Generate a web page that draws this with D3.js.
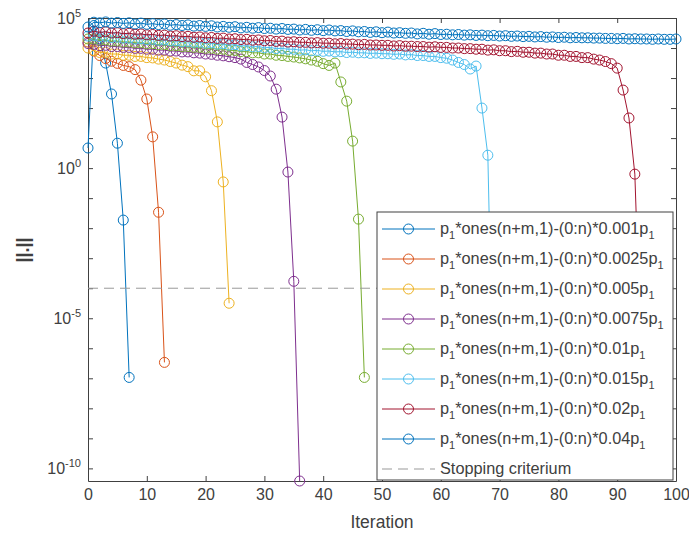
<!DOCTYPE html>
<html><head><meta charset="utf-8">
<script src="https://cdn.jsdelivr.net/npm/d3@7"></script>
<style>
body{margin:0;background:#fff}
text{font-family:"Liberation Sans",Arial,Helvetica,sans-serif}
</style>
</head><body>
<svg id="chart" width="689" height="537"></svg>
<script>
// ---------------- data ----------------
const coefficients = ["0.001", "0.0025", "0.005", "0.0075", "0.01", "0.015", "0.02", "0.04"];
const seriesColors = ["#0072BD", "#D95319", "#EDB120", "#7E2F8E", "#77AC30", "#4DBEEE", "#A2142F", "#0072BD"];

const norm0001 = [4.68, 5.62e4, 2.0e4, 3.16e3, 295, 6.76, 0.0186, 1.07e-7];

const norm00025 = [1.58e4, 7.94e3, 5.62e3, 4.47e3, 3.63e3, 3.09e3, 2.63e3, 2.40e3, 1.91e3, 851,
  200, 11.0, 0.0339, 3.39e-7];

const norm0005 = [1.00e4, 8.32e3, 7.08e3, 7.24e3, 6.31e3, 6.31e3, 5.75e3, 5.75e3, 5.25e3, 5.25e3,
  4.79e3, 4.68e3, 4.27e3, 3.98e3, 3.55e3, 3.16e3, 2.69e3, 2.40e3, 1.74e3, 1.74e3,
  1.10e3, 380, 34.7, 0.347, 3.16e-5];

const norm00075 = [1.41e4, 1.32e4, 1.20e4, 1.23e4, 1.12e4, 1.12e4, 1.05e4, 1.05e4, 9.77e3, 9.77e3,
  9.12e3, 9.12e3, 8.51e3, 8.51e3, 7.94e3, 7.94e3, 7.41e3, 7.41e3, 6.92e3, 6.76e3,
  6.31e3, 6.17e3, 5.75e3, 5.50e3, 5.13e3, 4.79e3, 4.27e3, 3.31e3, 2.82e3, 2.34e3,
  1.78e3, 1.17e3, 427, 50.1, 0.741, 1.70e-4, 3.8e-11];

const norm001 = [2.00e4, 2.00e4, 1.82e4, 1.86e4, 1.70e4, 1.70e4, 1.58e4, 1.58e4, 1.48e4, 1.48e4,
  1.38e4, 1.38e4, 1.29e4, 1.29e4, 1.20e4, 1.20e4, 1.12e4, 1.12e4, 1.05e4, 1.05e4,
  9.77e3, 9.77e3, 9.12e3, 9.12e3, 8.32e3, 8.32e3, 7.59e3, 7.59e3, 6.92e3, 6.92e3,
  6.31e3, 6.31e3, 5.75e3, 5.62e3, 5.25e3, 5.01e3, 4.68e3, 4.37e3, 3.98e3, 3.63e3,
  3.02e3, 2.63e3, 3.16e3, 741, 170, 7.94, 0.02, 1.07e-7];

const norm0015 = [2.51e4, 2.63e4, 2.40e4, 2.45e4, 2.24e4, 2.29e4, 2.14e4, 2.14e4, 2.00e4, 2.04e4,
  1.91e4, 1.95e4, 1.82e4, 1.86e4, 1.74e4, 1.74e4, 1.62e4, 1.66e4, 1.55e4, 1.55e4,
  1.45e4, 1.48e4, 1.35e4, 1.38e4, 1.26e4, 1.29e4, 1.17e4, 1.20e4, 1.10e4, 1.12e4,
  1.02e4, 1.05e4, 9.55e3, 9.77e3, 9.12e3, 9.12e3, 8.51e3, 8.71e3, 8.13e3, 8.32e3,
  7.76e3, 7.94e3, 7.41e3, 7.59e3, 7.08e3, 7.24e3, 6.92e3, 6.92e3, 6.61e3, 6.76e3,
  6.46e3, 6.46e3, 6.17e3, 6.31e3, 5.89e3, 6.03e3, 5.62e3, 5.62e3, 5.25e3, 5.25e3,
  4.79e3, 4.57e3, 3.98e3, 3.31e3, 2.82e3, 2.00e3, 2.51e3, 100, 2.69, 3.2e-9];

const norm002 = [3.16e4, 3.63e4, 3.31e4, 3.47e4, 3.16e4, 3.24e4, 3.02e4, 3.09e4, 2.88e4, 2.95e4,
  2.75e4, 2.82e4, 2.63e4, 2.69e4, 2.51e4, 2.57e4, 2.40e4, 2.45e4, 2.29e4, 2.34e4,
  2.19e4, 2.24e4, 2.09e4, 2.14e4, 2.00e4, 2.04e4, 1.91e4, 1.95e4, 1.82e4, 1.86e4,
  1.74e4, 1.78e4, 1.66e4, 1.70e4, 1.58e4, 1.62e4, 1.55e4, 1.55e4, 1.48e4, 1.51e4,
  1.45e4, 1.45e4, 1.38e4, 1.41e4, 1.35e4, 1.35e4, 1.29e4, 1.32e4, 1.26e4, 1.26e4,
  1.23e4, 1.23e4, 1.17e4, 1.20e4, 1.15e4, 1.15e4, 1.12e4, 1.12e4, 1.07e4, 1.10e4,
  1.05e4, 1.05e4, 1.00e4, 1.00e4, 9.55e3, 9.55e3, 9.12e3, 9.12e3, 8.51e3, 8.71e3,
  8.13e3, 8.13e3, 7.59e3, 7.76e3, 7.24e3, 7.24e3, 6.76e3, 6.76e3, 6.31e3, 6.31e3,
  5.75e3, 5.75e3, 5.25e3, 5.25e3, 4.79e3, 4.79e3, 4.27e3, 3.98e3, 3.55e3, 3.02e3,
  2.14e3, 398, 46.8, 0.631, 1e-6];

const norm004 = [5.01e4, 7.24e4, 6.92e4, 7.41e4, 6.76e4, 7.08e4, 6.61e4, 6.92e4, 6.31e4, 6.76e4,
  6.17e4, 6.46e4, 6.03e4, 6.31e4, 5.75e4, 6.03e4, 5.62e4, 5.89e4, 5.37e4, 5.62e4,
  5.25e4, 5.50e4, 5.01e4, 5.25e4, 4.90e4, 5.13e4, 4.68e4, 4.90e4, 4.57e4, 4.79e4,
  4.47e4, 4.57e4, 4.27e4, 4.47e4, 4.17e4, 4.27e4, 3.98e4, 4.17e4, 3.89e4, 4.07e4,
  3.80e4, 3.98e4, 3.72e4, 3.80e4, 3.55e4, 3.72e4, 3.47e4, 3.55e4, 3.31e4, 3.47e4,
  3.24e4, 3.39e4, 3.16e4, 3.24e4, 3.09e4, 3.16e4, 2.95e4, 3.09e4, 2.88e4, 3.02e4,
  2.82e4, 2.88e4, 2.75e4, 2.82e4, 2.69e4, 2.75e4, 2.63e4, 2.69e4, 2.57e4, 2.63e4,
  2.51e4, 2.57e4, 2.45e4, 2.51e4, 2.40e4, 2.45e4, 2.34e4, 2.40e4, 2.29e4, 2.34e4,
  2.24e4, 2.29e4, 2.19e4, 2.24e4, 2.19e4, 2.19e4, 2.14e4, 2.14e4, 2.09e4, 2.09e4,
  2.04e4, 2.09e4, 2.00e4, 2.04e4, 2.00e4, 2.00e4, 1.95e4, 2.00e4, 1.95e4, 1.95e4, 2.00e4];

const allSeries = [norm0001, norm00025, norm0005, norm00075, norm001, norm0015, norm002, norm004];
const stoppingCriterion = 1e-4;
const xTickValues = [0, 10, 20, 30, 40, 50, 60, 70, 80, 90, 100];
const yTickExponents = [-10, -9, -8, -7, -6, -5, -4, -3, -2, -1, 0, 1, 2, 3, 4, 5];
const yLabelExponents = [-10, -5, 0, 5];
const xLabel = "Iteration";
const yLabel = "||.||";
const stopLabel = "Stopping criterium";

// ---------------- chart ----------------
const svg = d3.select("#chart");
const L = 88, R = 676, T = 18, B = 481;
const x = d3.scaleLinear().domain([0, 100]).range([L, R]);
const y = d3.scaleLog().domain([3.8e-11, 1e5]).range([B, T]);
const axisColor = "#404040";
const textColor = "#404040";

svg.append("rect").attr("x", L).attr("y", T).attr("width", R - L).attr("height", B - T)
  .attr("fill", "#fff").attr("stroke", "none");

const gx = svg.append("g").attr("transform", `translate(0,${B})`)
  .call(d3.axisBottom(x).tickValues(xTickValues).tickSizeInner(-5).tickSizeOuter(0).tickPadding(8));
const gxTop = svg.append("g").attr("transform", `translate(0,${T})`)
  .call(d3.axisTop(x).tickValues(xTickValues).tickSizeInner(-5).tickSizeOuter(0).tickFormat(""));
const yVals = yTickExponents.map(e => Math.pow(10, e));
const gy = svg.append("g").attr("transform", `translate(${L},0)`)
  .call(d3.axisLeft(y).tickValues(yVals).tickSizeInner(-5).tickSizeOuter(0).tickFormat(""));
const gyR = svg.append("g").attr("transform", `translate(${R},0)`)
  .call(d3.axisRight(y).tickValues(yVals).tickSizeInner(-5).tickSizeOuter(0).tickFormat(""));

[gx, gxTop, gy, gyR].forEach(g => {
  g.selectAll("path.domain").attr("stroke", axisColor).attr("stroke-width", 1);
  g.selectAll(".tick line").attr("stroke", axisColor).attr("stroke-width", 1);
});
gx.selectAll(".tick text").attr("fill", textColor).style("font-size", "16px")
  .style("font-family", '"Liberation Sans",Arial,sans-serif');

yLabelExponents.forEach(e => {
  const t = svg.append("text").attr("x", 81).attr("y", y(Math.pow(10, e)) + 6)
    .attr("text-anchor", "end").attr("fill", textColor).style("font-size", "16px");
  t.append("tspan").text("10");
  t.append("tspan").attr("dy", -7).style("font-size", "11px").text(String(e));
});

svg.append("text").attr("x", (L + R) / 2).attr("y", 528).attr("text-anchor", "middle")
  .attr("fill", textColor).style("font-size", "17.5px").text(xLabel);
svg.append("text").attr("transform", "translate(29,250) rotate(-90)").attr("text-anchor", "middle")
  .attr("fill", textColor).style("font-size", "18px").style("font-weight", "bold").text(yLabel);

const line = d3.line().x((d, i) => x(i)).y(d => y(d));
allSeries.forEach((s, k) => {
  const g = svg.append("g");
  g.append("path").datum(s).attr("d", line).attr("fill", "none")
    .attr("stroke", seriesColors[k]).attr("stroke-width", 1);
  g.selectAll("circle").data(s).join("circle")
    .attr("cx", (d, i) => x(i)).attr("cy", d => y(d)).attr("r", 5)
    .attr("fill", "none").attr("stroke", seriesColors[k]).attr("stroke-width", 1);
});

svg.append("line").attr("x1", x(0)).attr("x2", x(100))
  .attr("y1", y(stoppingCriterion)).attr("y2", y(stoppingCriterion))
  .attr("stroke", "#999").attr("stroke-width", 1).attr("stroke-dasharray", "10,6");

const lg = svg.append("g");
lg.append("rect").attr("x", 377).attr("y", 212).attr("width", 296).attr("height", 268)
  .attr("fill", "#fff").attr("stroke", axisColor).attr("stroke-width", 1);
const rowY = i => 229 + i * 30;
coefficients.forEach((c, i) => {
  const yy = rowY(i);
  lg.append("line").attr("x1", 382).attr("x2", 435).attr("y1", yy).attr("y2", yy)
    .attr("stroke", seriesColors[i]).attr("stroke-width", 1);
  lg.append("circle").attr("cx", 408.5).attr("cy", yy).attr("r", 5)
    .attr("fill", "none").attr("stroke", seriesColors[i]).attr("stroke-width", 1);
  const t = lg.append("text").attr("x", 440).attr("y", yy + 5).attr("fill", textColor)
    .style("font-size", "16.3px");
  t.append("tspan").text("p");
  t.append("tspan").attr("dy", 5).style("font-size", "11px").text("1");
  t.append("tspan").attr("dy", -5).text("*ones(n+m,1)-(0:n)*" + c + "p");
  t.append("tspan").attr("dy", 5).style("font-size", "11px").text("1");
});
const sy = rowY(8);
lg.append("line").attr("x1", 382).attr("x2", 435).attr("y1", sy).attr("y2", sy)
  .attr("stroke", "#999").attr("stroke-width", 1).attr("stroke-dasharray", "10,6");
lg.append("text").attr("x", 440).attr("y", sy + 5).attr("fill", textColor)
  .style("font-size", "16.3px").text(stopLabel);
</script>
</body></html>
